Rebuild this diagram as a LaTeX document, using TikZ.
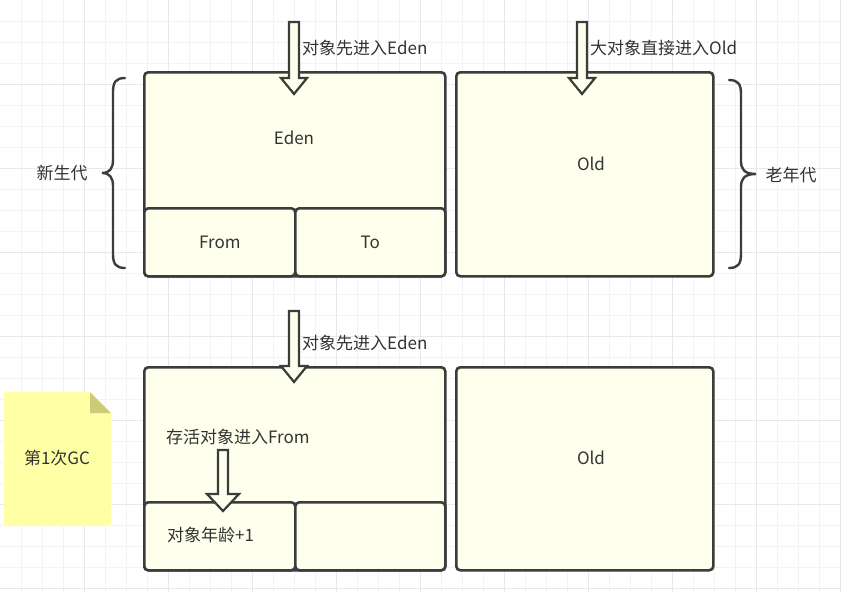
\documentclass[tikz,border=0pt]{standalone}
\usepackage{fontspec}
\setmainfont{Noto Sans CJK SC}
\usetikzlibrary{positioning}
\definecolor{boxFill}{RGB}{255, 255, 238}
\definecolor{boxEdge}{RGB}{60, 60, 60}
\definecolor{noteFill}{RGB}{255, 255, 165}
\definecolor{noteFold}{RGB}{204, 204, 120}
\definecolor{gridLight}{RGB}{243, 243, 243}
\definecolor{gridDark}{RGB}{232, 232, 232}
\definecolor{labelText}{RGB}{51, 51, 51}
\tikzset{
    region/.style={fill=boxFill, draw=boxEdge, line width=2.6pt, rounded corners=4pt, anchor=north west, inner sep=0pt},
    fatarrow/.style={fill=boxFill, draw=boxEdge, line width=2.2pt, line join=miter},
    bracket/.style={draw=boxEdge, line width=2.4pt, line cap=round},
    label/.style={text=labelText, font=\fontsize{17}{20}\selectfont, inner sep=0pt}
}
% block arrow: x, top of shaft, start of head, tip, half width of head
\newcommand{\blockarrow}[5]{%
    \draw[fatarrow] (#1-5,#2) -- (#1+5,#2) -- (#1+5,#3) -- (#1+#5,#3) -- (#1,#4)
        -- (#1-#5,#3) -- (#1-5,#3) -- cycle;}

\begin{document}
\begin{tikzpicture}[x=1pt, y=-1pt]
    \useasboundingbox (0,0) rectangle (841,592);
    \fill[white] (0,0) rectangle (841,592);

    % Grid in the background
    \foreach \i in {1,...,40}
        \draw[gridLight, line width=1pt] (21*\i,0) -- (21*\i,592);
    \foreach \j in {1,...,28}
        \draw[gridLight, line width=1pt] (0,21*\j) -- (841,21*\j);
    \foreach \i in {1,...,10}
        \draw[gridDark, line width=1pt] (84*\i,0) -- (84*\i,592);
    \foreach \j in {1,...,7}
        \draw[gridDark, line width=1pt] (0,84*\j) -- (841,84*\j);

    % Heap before the GC
    \node[region, minimum width=301pt, minimum height=204pt] (young) at (143,71) {};
    \node[region, minimum width=151pt, minimum height=68pt] (from) at (143,207) {};
    \node[region, minimum width=150pt, minimum height=68pt] (to) at (294,207) {};
    \node[region, minimum width=257pt, minimum height=204pt] (old) at (455,71) {};
    \node[label] (edenLabel) at (294,138) {Eden};
    \node[label] at (from.center) {From};
    \node[label] at (to.center) {To};
    \node[label] at (591,164) {Old};

    % Objects coming in
    \blockarrow{294}{22}{78}{94}{13}
    \blockarrow{582}{22}{78}{94}{13}
    \node[label, anchor=west] (newEden) at (302,48) {对象先进入Eden};
    \node[label, anchor=west] (newOld) at (590,48) {大对象直接进入Old};

    % Braces for the generations
    \draw[bracket] (125,78) .. controls (116,78) and (113,82) .. (113,92) -- (113,160)
        .. controls (113,168) and (110,173) .. (102,173)
        .. controls (110,173) and (113,178) .. (113,186) -- (113,254)
        .. controls (113,264) and (116,268) .. (125,268);
    \draw[bracket] (729,80) .. controls (738,80) and (741,84) .. (741,94) -- (741,161)
        .. controls (741,169) and (744,174) .. (756,174)
        .. controls (744,174) and (741,179) .. (741,187) -- (741,254)
        .. controls (741,264) and (738,268) .. (729,268);
    \node[label] (youngGen) at (62,173) {新生代};
    \node[label] (oldGen) at (791,175) {老年代};

    % Heap after the first GC
    \node[region, minimum width=301pt, minimum height=203pt] (young2) at (143,366) {};
    \node[region, minimum width=151pt, minimum height=68pt] (from2) at (143,501) {};
    \node[region, minimum width=150pt, minimum height=68pt] (to2) at (294,501) {};
    \node[region, minimum width=257pt, minimum height=203pt] (old2) at (455,366) {};
    \node[label] at (591,458) {Old};

    \blockarrow{294}{311}{366}{382}{13}
    \node[label, anchor=west] (newEden2) at (302,343) {对象先进入Eden};
    \node[label, anchor=west] (survive) at (166,437) {存活对象进入From};
    \blockarrow{223}{450}{494}{511}{16}
    \node[label, anchor=west] (age) at (167,535) {对象年龄+1};

    % Note
    \fill[noteFill] (4,392) -- (90,392) -- (111,413) -- (111,526) -- (4,526) -- cycle;
    \fill[noteFold] (90,392) -- (111,413) -- (90,413) -- cycle;
    \node[label] (gcNote) at (57,458) {第1次GC};
\end{tikzpicture}
\end{document}
